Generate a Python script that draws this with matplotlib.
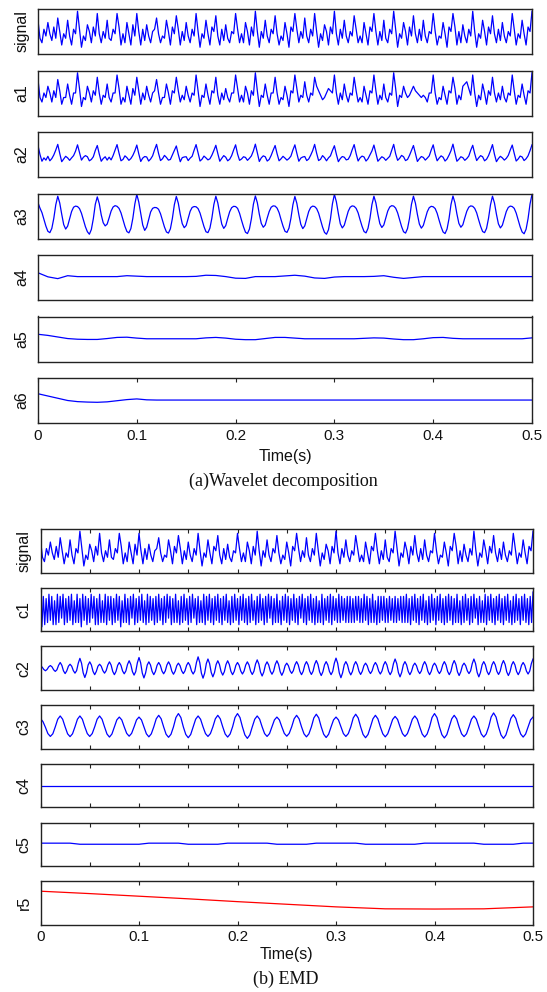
import numpy as np
import matplotlib
matplotlib.use('Agg')
import matplotlib.pyplot as plt

# ---------------- data (panel units -10..10) ----------------
tick_values = [0.0, 0.1, 0.2, 0.3, 0.4, 0.5]
tick_labels = ['0', '0.1', '0.2', '0.3', '0.4', '0.5']
minor_tick_values = [0.0, 0.05, 0.1, 0.15, 0.2, 0.25, 0.3, 0.35, 0.4, 0.45, 0.5]

wavelet_names = ['signal', 'a1', 'a2', 'a3', 'a4', 'a5', 'a6']
emd_names = ['signal', 'c1', 'c2', 'c3', 'c4', 'c5', 'r5']

# sampled every 2 ms
signal = [
    5, -3, -5, 1, -2, 4, -1, -4, 2, -3,
    6, 0, -6, -1, -3, 5, -2, -6, 1, -1,
    9, 1, -7, -2, -4, 3, 0, -5, 2, -2,
    8, -1, -5, 0, -3, 5, -3, -4, 1, -1,
    8, 2, -6, -1, -5, 4, -1, -6, 3, -2,
    8, 0, -6, 1, -4, 3, -2, -5, 0, 1,
    6, -1, -5, -2, -3, 5, 0, -6, 2, -1,
    7, 1, -6, 0, -4, 4, -2, -5, 1, -2,
    8, 0, -7, -1, -3, 5, -1, -6, 2, 0,
    7, -2, -6, 1, -4, 3, -3, -5, 0, -1,
    8, 1, -5, -1, -5, 4, 0, -6, 2, -2,
    9, 0, -7, 0, -3, 5, -2, -5, 1, -1,
    7, -1, -6, -2, -4, 4, -1, -7, 2, 0,
    8, 1, -5, 0, -3, 6, -2, -5, 1, -2,
    8, 0, -7, -1, -4, 3, 0, -6, 2, -1,
    9, -1, -6, 1, -3, 5, -2, -5, 0, -2,
    7, 1, -5, -2, -5, 4, -1, -6, 2, 0,
    8, 0, -6, 0, -4, 5, -3, -5, 1, -1,
    9, 1, -7, -1, -3, 4, 0, -6, 2, -2,
    7, -1, -5, 1, -4, 5, -2, -5, 0, -1,
    8, 0, -6, -2, -3, 4, -1, -7, 2, 0,
    8, 2, -6, 0, -5, 3, -2, -5, 1, -2,
    9, 0, -7, -1, -3, 5, 0, -6, 2, -1,
    7, -1, -5, 1, -4, 4, -2, -5, 0, -2,
    8, 1, -6, -1, -3, 5, -1, -6, 2, 0,
    9]

a1 = [
    6, -2, -4, 0, -2, 3, 0, -4, 1, -2,
    6, 1, -5, -2, -2, 4, -1, -5, 0, 0,
    9, 2, -6, -2, -3, 3, 0, -4, 1, -1,
    7, 0, -5, -1, -2, 4, -2, -4, 0, 0,
    8, 2, -5, -2, -4, 3, -1, -5, 2, -1,
    7, 1, -5, 0, -3, 3, -1, -4, 0, 1,
    6, 0, -5, -2, -2, 4, 0, -5, 1, 0,
    7, 1, -4, -1, -3, 3, -1, -4, 0, -1,
    8, 1, -6, -1, -2, 4, -1, -5, 1, 0,
    7, -1, -5, 0, -3, 2, -2, -4, 0, 0,
    8, 2, -4, -1, -4, 3, 0, -5, 1, -1,
    9, 1, -6, -1, -2, 4, -1, -5, 0, 0,
    7, 0, -5, -2, -3, 3, -1, -6, 1, 0,
    8, 2, -4, -1, -2, 5, -1, -4, 0, -1,
    7, 3, 1, -1, -3, -2, 0, 2, 1, 0,
    8, 0, -5, 0, -3, 4, -1, -4, 0, -1,
    7, 1, -4, -2, -4, 3, -1, -5, 1, 0,
    8, 1, -5, -1, -3, 4, -2, -4, 0, -1,
    9, 2, -6, -1, -2, 3, 0, -2, -1, 1,
    3, 1, 0, -1, -2, -1, -2, -4, 0, 0,
    8, 0, -5, -2, -3, 3, -1, -5, 1, 0,
    7, 2, -5, -1, -3, 3, 4, 5, 2, -1,
    8, 0, -6, -1, -3, 4, 0, -5, 1, -1,
    7, 0, -4, 0, -3, 3, -2, -4, 0, -1,
    8, 1, -5, -1, -2, 4, -1, -5, 1, 0,
    9]

a2 = [
    4.0, 0.0, -3.0, -1.5, -2.5, -0.8, -2.8, -1.8, -0.2, 2.0,
    4.5, 0.5, -3.2, -2.0, -0.8, -1.5, -2.6, -1.5, -0.5, 1.5,
    4.3, 0.8, -2.5, -1.2, -0.5, -1.0, -2.8, -2.2, -1.0, 1.8,
    4.0, 0.2, -3.0, -1.8, -1.0, -2.5, -1.2, -2.4, -0.5, 2.0,
    4.4, 0.6, -2.8, -2.2, -0.6, -1.4, -2.6, -1.8, -0.4, 1.6,
    4.2, 0.3, -3.1, -1.6, -0.9, -1.1, -2.9, -2.0, -0.6, 2.1,
    4.5, 0.5, -2.7, -1.9, -0.4, -1.3, -2.5, -2.2, -0.2, 1.7,
    3.8, 0.0, -3.2, -1.4, -1.1, -1.0, -2.7, -1.6, -0.8, 1.9,
    4.4, 0.7, -2.9, -2.1, -0.7, -1.5, -2.4, -1.9, -0.3, 1.8,
    4.1, 0.4, -3.0, -1.7, -0.5, -1.2, -2.8, -2.1, -0.5, 2.0,
    4.3, 0.2, -2.6, -2.0, -1.0, -1.3, -2.6, -1.7, -0.6, 1.6,
    4.6, 0.8, -3.1, -1.5, -0.6, -1.0, -2.9, -2.2, -0.4, 1.9,
    4.0, 0.3, -2.8, -1.9, -0.8, -1.6, -2.5, -1.8, -0.7, 2.0,
    4.3, 0.5, -3.0, -1.6, -1.1, -0.9, -2.7, -2.0, -0.3, 1.7,
    4.5, 0.6, -2.7, -2.1, -0.5, -1.4, -2.8, -1.5, -0.6, 1.8,
    3.9, 0.1, -3.2, -1.8, -0.9, -1.2, -2.4, -2.1, -0.5, 2.1,
    4.4, 0.4, -2.9, -1.5, -0.7, -1.1, -2.9, -1.9, -0.2, 1.6,
    4.2, 0.7, -3.0, -2.0, -1.0, -1.5, -2.6, -1.7, -0.8, 1.9,
    4.5, 0.3, -2.6, -1.7, -0.4, -1.0, -2.7, -2.2, -0.4, 1.8,
    4.0, 0.5, -3.1, -1.9, -0.9, -1.3, -2.5, -1.6, -0.6, 2.0,
    4.3, 0.2, -2.8, -1.6, -0.6, -1.2, -2.9, -2.0, -0.3, 1.7,
    4.6, 0.6, -3.0, -2.1, -1.0, -1.4, -2.6, -1.8, -0.7, 1.9,
    4.1, 0.4, -2.7, -1.5, -0.5, -1.0, -2.8, -2.1, -0.5, 1.8,
    4.4, 0.1, -3.2, -1.8, -0.8, -1.5, -2.5, -1.7, -0.4, 2.0,
    4.2, 0.5, -2.9, -2.0, -0.7, -1.1, -2.7, -1.9, -0.6, 1.7,
    4.3]

a3 = [
    5.9, 3.5, 1.5, -1.5, -4.5, -6.8, -7.4, -5.5, -1.0, 5.0,
    8.8, 5.8, 0.8, -3.8, -5.8, -4.5, -1.2, 2.0, 3.9, 4.4, 4.2, 3.3, 1.2, -1.8, -4.8, -7.0, -8.1, -6.0, -1.2, 5.2,
    8.5, 5.5, 0.5, -3.0, -4.4, -3.6, -0.8, 2.2, 4.0, 4.6, 4.3, 3.4, 1.4, -1.6, -4.6, -6.9, -7.5, -5.6, -1.0, 5.3,
    9.6, 6.2, 1.0, -4.0, -6.4, -5.0, -1.5, 1.8, 3.4, 3.8, 3.7, 3.0, 1.0, -2.0, -4.9, -7.1, -7.6, -5.7, -1.1, 5.0,
    8.7, 5.7, 0.7, -3.4, -5.2, -4.2, -1.0, 2.1, 3.8, 4.2, 4.1, 3.3, 1.3, -1.7, -4.7, -7.0, -7.4, -5.4, -0.9, 5.1,
    8.8, 5.8, 0.9, -3.6, -5.5, -4.3, -1.1, 1.9, 3.7, 4.3, 4.2, 3.4, 1.2, -1.9, -4.8, -7.2, -7.8, -5.8, -1.2, 5.2,
    8.9, 5.9, 0.8, -3.3, -5.0, -4.0, -0.9, 2.0, 3.9, 4.5, 4.4, 3.5, 1.5, -1.6, -4.5, -6.8, -7.3, -5.4, -1.0, 5.0,
    8.7, 5.6, 0.6, -3.7, -5.6, -4.4, -1.2, 2.0, 3.8, 4.4, 4.2, 3.3, 1.3, -1.8, -4.9, -7.3, -8.1, -6.1, -1.3, 5.4,
    9.6, 6.3, 1.1, -3.5, -5.3, -4.1, -1.0, 2.1, 3.9, 4.5, 4.3, 3.4, 1.4, -1.7, -4.6, -6.9, -7.5, -5.5, -1.0, 5.1,
    8.8, 5.8, 0.8, -3.4, -5.1, -4.0, -0.9, 2.2, 4.0, 4.6, 4.4, 3.5, 1.4, -1.6, -4.7, -7.0, -7.6, -5.6, -1.1, 5.2,
    8.8, 5.7, 0.7, -3.6, -5.4, -4.2, -1.1, 1.9, 3.7, 4.3, 4.1, 3.3, 1.2, -1.9, -4.8, -7.1, -7.8, -5.8, -1.2, 5.1,
    8.9, 5.9, 0.9, -3.3, -5.0, -3.9, -0.8, 2.1, 3.9, 4.5, 4.3, 3.4, 1.4, -1.7, -4.6, -6.9, -7.4, -5.5, -1.0, 5.0,
    8.8, 5.8, 0.8, -3.5, -5.3, -4.1, -1.0, 2.0, 3.8, 4.4, 4.2, 3.4, 1.3, -1.8, -4.8, -7.1, -7.9, -5.9, -1.2, 5.3,
    9.6]

# sampled every 10 ms
a4 = [2.1, 0.3, -0.5, 0.8, 0.4, 0.4, 0.4, 0.4, 0.4, 0.8,
      0.6, 0.4, 0.4, 0.4, 0.4, 0.4, 0.5, 1.0, 0.9, 0.4,
      -0.3, -0.4, 0.4, 0.4, 0.4, 0.7, 1.0, 0.6, -0.2, -0.4,
      0.2, 0.4, 0.4, 0.4, 0.5, 0.8, 0.1, -0.4, 0.0, 0.4,
      0.4, 0.4, 0.4, 0.4, 0.4, 0.4, 0.4, 0.4, 0.4, 0.4, 0.4]
a5 = [2.1, 1.6, 0.9, 0.2, -0.1, -0.2, -0.2, 0.2, 0.7, 0.8,
      0.4, 0.1, 0.1, 0.1, 0.1, 0.1, 0.1, 0.5, 0.7, 0.4,
      -0.1, -0.3, -0.3, 0.2, 0.7, 0.7, 0.4, 0.1, 0.1, 0.1,
      0.1, 0.1, 0.1, 0.3, 0.5, 0.4, 0.0, -0.3, -0.3, 0.1,
      0.6, 0.7, 0.3, 0.1, 0.1, 0.1, 0.1, 0.1, 0.1, 0.1, 0.5]
a6 = [3.0, 2.0, 1.0, 0.0, -0.5, -0.7, -0.8, -0.6, -0.1, 0.4,
      0.7, 0.3, 0.2, 0.2, 0.2, 0.2, 0.2, 0.2, 0.2, 0.2,
      0.2, 0.2, 0.2, 0.2, 0.2, 0.2, 0.2, 0.2, 0.2, 0.2,
      0.2, 0.2, 0.2, 0.2, 0.2, 0.2, 0.2, 0.2, 0.2, 0.2,
      0.2, 0.2, 0.2, 0.2, 0.2, 0.2, 0.2, 0.2, 0.2, 0.2, 0.2]

# c1: successive extrema, about 1.43 ms apart
c1 = [
    9, -8, 6, -7, 5, -6, 7, -5, 6, -7,
    4, -7, 7, -6, 6, -4, 7, -7, 5, -6,
    6, -5, 7, -7, 4, -6, 7, -6, 5, -8,
    7, -5, 6, -7, 5, -6, 7, -4, 6, -7,
    5, -7, 7, -6, 4, -6, 7, -7, 6, -5,
    6, -7, 5, -6, 7, -5, 6, -8, 4, -6,
    7, -6, 5, -7, 6, -4, 7, -7, 5, -6,
    6, -5, 7, -6, 4, -7, 7, -6, 6, -5,
    5, -7, 6, -6, 7, -5, 5, -7, 6, -6,
    7, -4, 6, -7, 5, -6, 7, -6, 4, -7,
    6, -6, 7, -5, 5, -7, 6, -6, 7, -4,
    5, -7, 6, -6, 4, -6, 7, -7, 6, -5,
    7, -6, 5, -7, 6, -5, 7, -6, 5, -7,
    6, -5, 7, -6, 4, -7, 6, -6, 7, -5,
    5, -7, 6, -5, 7, -6, 5, -7, 6, -6,
    7, -5, 4, -7, 6, -6, 7, -5, 5, -7,
    6, -6, 7, -4, 6, -7, 5, -6, 7, -6,
    4, -7, 6, -5, 7, -6, 6, -7, 5, -5,
    7, -6, 5, -7, 6, -4, 7, -6, 5, -7,
    6, -5, 7, -6, 5, -7, 6, -6, 4, -6,
    7, -7, 5, -5, 6, -6, 7, -7, 6, -5,
    5, -6, 7, -6, 6, -5, 5, -6, 6, -6,
    6, -6, 5, -6, 6, -5, 6, -6, 5, -6,
    7, -5, 6, -7, 5, -6, 7, -6, 4, -7,
    6, -6, 6, -5, 6, -6, 5, -6, 6, -5,
    5, -6, 6, -6, 5, -5, 6, -6, 6, -6,
    7, -6, 5, -7, 6, -5, 7, -6, 5, -7,
    6, -5, 7, -6, 4, -7, 6, -6, 7, -5,
    5, -7, 6, -5, 7, -6, 5, -7, 6, -6,
    7, -5, 6, -7, 5, -6, 7, -6, 4, -7,
    6, -6, 7, -5, 5, -7, 6, -6, 7, -4,
    5, -7, 6, -6, 4, -6, 7, -7, 6, -5,
    7, -6, 5, -7, 6, -5, 7, -6, 5, -7,
    6, -5, 7, -6, 4, -7, 6, -6, 7, -5,
    5, -7, 6, -5, 7, -6, 5, -7, 6, -6,
    8]

# sampled every 1.67 ms (six readings per 10 ms cycle)
c2 = [
    1.0, 0.5, -0.6, -1.2, -0.6, 0.6,
    1.2, 0.6, -0.75, -1.5, -0.75, 1.3,
    2.6, 1.3, -1.25, -2.5, -1.25, 0.9,
    1.8, 0.9, -1.15, -2.3, -1.15, 2.25,
    4.5, 2.25, -2.15, -4.3, -2.15, 1.45,
    2.9, 1.45, -1.5, -3.0, -1.5, 0.9,
    1.8, 0.9, -1.15, -2.3, -1.15, 1.45,
    2.9, 1.45, -1.5, -3.0, -1.5, 1.3,
    2.6, 1.3, -1.3, -2.6, -1.3, 1.7,
    3.4, 1.7, -1.6, -3.2, -1.6, 2.45,
    4.9, 2.45, -2.25, -4.5, -2.25, 1.45,
    2.9, 1.45, -1.5, -3.0, -1.5, 1.3,
    2.6, 1.3, -1.3, -2.6, -1.3, 1.45,
    2.9, 1.45, -1.4, -2.8, -1.4, 1.15,
    2.3, 1.15, -1.25, -2.5, -1.25, 1.3,
    2.6, 1.3, -1.35, -2.7, -1.35, 2.6,
    5.2, 2.6, -2.3, -4.6, -2.3, 2.1,
    4.2, 2.1, -2.0, -4.0, -2.0, 1.7,
    3.4, 1.7, -1.6, -3.2, -1.6, 1.7,
    3.4, 1.7, -1.5, -3.0, -1.5, 1.3,
    2.6, 1.3, -1.35, -2.7, -1.35, 1.45,
    2.9, 1.45, -1.45, -2.9, -1.45, 1.9,
    3.8, 1.9, -1.8, -3.6, -1.8, 1.45,
    2.9, 1.45, -1.4, -2.8, -1.4, 1.7,
    3.4, 1.7, -1.65, -3.3, -1.65, 1.15,
    2.3, 1.15, -1.2, -2.4, -1.2, 1.5,
    3.0, 1.5, -1.5, -3.0, -1.5, 1.5,
    3.0, 1.5, -1.45, -2.9, -1.45, 1.75,
    3.5, 1.75, -1.7, -3.4, -1.7, 1.5,
    3.0, 1.5, -1.5, -3.0, -1.5, 2.3,
    4.6, 2.3, -2.2, -4.4, -2.2, 1.5,
    3.0, 1.5, -1.55, -3.1, -1.55, 1.5,
    3.0, 1.5, -1.45, -2.9, -1.45, 1.15,
    2.3, 1.15, -1.25, -2.5, -1.25, 1.3,
    2.6, 1.3, -1.35, -2.7, -1.35, 1.5,
    3.0, 1.5, -1.5, -3.0, -1.5, 2.1,
    4.2, 2.1, -2.0, -4.0, -2.0, 1.5,
    3.0, 1.5, -1.5, -3.0, -1.5, 1.15,
    2.3, 1.15, -1.25, -2.5, -1.25, 1.5,
    3.0, 1.5, -1.5, -3.0, -1.5, 1.15,
    2.3, 1.15, -1.25, -2.5, -1.25, 1.5,
    3.0, 1.5, -1.5, -3.0, -1.5, 1.75,
    3.5, 1.75, -1.7, -3.4, -1.7, 1.15,
    2.3, 1.15, -1.25, -2.5, -1.25, 2.1,
    4.2, 2.1, -2.0, -4.0, -2.0, 1.5,
    3.0, 1.5, -1.5, -3.0, -1.5, 1.5,
    3.0, 1.5, -1.45, -2.9, -1.45, 1.75,
    3.5, 1.75, -1.7, -3.4, -1.7, 1.5,
    3.0, 1.5, -1.5, -3.0, -1.5, 1.3,
    2.6, 1.3, -1.35, -2.7, -1.35, 2.1,
    4.2]

# sampled every 2.5 ms
c3 = [
    3.8, 2.4, -0.2, -3.1, -4.4, -3.2, 0.0, 3.5,
    5.0, 3.5, 0.0, -3.2, -4.5, -3.2, 0.0, 3.5,
    5.0, 3.5, 0.0, -3.1, -4.4, -3.1, 0.0, 3.5,
    5.0, 3.5, 0.0, -3.3, -4.7, -3.3, 0.0, 3.2,
    4.5, 3.2, 0.0, -3.0, -4.3, -3.0, 0.0, 3.2,
    4.5, 3.2, 0.0, -3.2, -4.6, -3.2, 0.0, 3.7,
    5.3, 3.7, 0.0, -3.4, -4.8, -3.4, 0.0, 4.3,
    6.1, 4.3, 0.0, -3.5, -5.0, -3.5, 0.0, 3.5,
    5.0, 3.5, 0.0, -3.1, -4.4, -3.1, 0.0, 3.7,
    5.3, 3.7, 0.0, -3.3, -4.7, -3.3, 0.0, 4.3,
    6.1, 4.3, 0.0, -3.7, -5.3, -3.7, 0.0, 3.5,
    5.0, 3.5, 0.0, -3.1, -4.4, -3.1, 0.0, 3.2,
    4.5, 3.2, 0.0, -3.0, -4.3, -3.0, 0.0, 3.7,
    5.3, 3.7, 0.0, -3.2, -4.6, -3.2, 0.0, 4.1,
    5.8, 4.1, 0.0, -3.4, -4.9, -3.4, 0.0, 3.2,
    4.5, 3.2, 0.0, -3.1, -4.4, -3.1, 0.0, 4.1,
    5.8, 4.1, 0.0, -3.5, -5.0, -3.5, 0.0, 3.7,
    5.3, 3.7, 0.0, -3.2, -4.6, -3.2, 0.0, 3.4,
    4.8, 3.4, 0.0, -3.1, -4.4, -3.1, 0.0, 3.5,
    5.0, 3.5, 0.0, -3.3, -4.7, -3.3, 0.0, 4.3,
    6.1, 4.3, 0.0, -3.6, -5.1, -3.6, 0.0, 3.7,
    5.3, 3.7, 0.0, -3.2, -4.5, -3.2, 0.0, 3.5,
    5.0, 3.5, 0.0, -3.3, -4.7, -3.3, 0.0, 4.5,
    6.4, 4.5, 0.0, -3.7, -5.3, -3.7, 0.0, 3.9,
    5.6, 3.9, 0.0, -3.3, -4.7, -3.3, 0.0, 3.2,
    4.5]

c4 = [0.0, 0.0, 0.0, 0.0, 0.0, 0.0, 0.0, 0.0, 0.0, 0.0, 0.0]

# sampled every 10 ms
c5 = [0.5, 0.5, 0.5, 0.5, 0.0, 0.0, 0.0, 0.0, 0.0, 0.0,
      0.0, 0.5, 0.5, 0.5, 0.5, 0.0, 0.0, 0.0, 0.0, 0.5,
      0.5, 0.5, 0.5, 0.5, 0.0, 0.0, 0.0, 0.0, 0.5, 0.5,
      0.5, 0.5, 0.5, 0.0, 0.0, 0.0, 0.0, 0.0, 0.0, 0.5,
      0.5, 0.5, 0.5, 0.5, 0.5, 0.0, 0.0, 0.0, 0.0, 0.5, 0.5]

# sampled every 50 ms
r5 = [5.4, 4.3, 3.1, 1.9, 0.6, -0.6, -1.8, -2.7, -2.8, -2.7, -1.8]

# ---------------- figure ----------------
W, H = 547, 992
fig = plt.figure(figsize=(W / 100, H / 100), dpi=100)
fig.patch.set_facecolor('white')

SANS = ['Liberation Sans', 'DejaVu Sans']
SERIF = ['Liberation Serif', 'DejaVu Serif']
BLUE = '#0000ff'
RED = '#ff0000'
SPINE = '#222222'


def add_ax(left, top, width, height):
    return fig.add_axes([left / W, 1 - (top + height) / H, width / W, height / H])


def style(ax):
    ax.set_xlim(0, 0.5)
    ax.set_ylim(-10, 10)
    ax.set_yticks([])
    for s in ax.spines.values():
        s.set_color(SPINE)
        s.set_linewidth(1.0)
    ax.tick_params(axis='x', direction='in', top=True, bottom=True,
                   length=3, width=0.8, color=SPINE,
                   labelsize=11, pad=4, labelcolor='#111111')


# (a) wavelet decomposition
wav_data = [signal, a1, a2, a3, a4, a5, a6]
for i, (name, vals) in enumerate(zip(wavelet_names, wav_data)):
    top = 9 + 61.5 * i
    ax = add_ax(38, top, 494, 45)
    t = np.linspace(0, 0.5, len(vals))
    ax.plot(t, vals, color=BLUE, lw=0.9)
    style(ax)
    if i == len(wav_data) - 1:
        ax.set_xticks(tick_values)
        ax.set_xticklabels(tick_labels, family=SANS)
    else:
        ax.set_xticks([])
    fig.text(22 / W, 1 - (top + 22.5) / H, name, rotation=90, ha='center',
             va='center', fontsize=11.5, family=SANS, color='#111111')

fig.text(285 / W, 1 - 457 / H, 'Time(s)', ha='center', va='center',
         fontsize=11.5, family=SANS, color='#111111')
fig.text(283 / W, 1 - 481 / H, '(a)Wavelet decomposition', ha='center',
         va='center', fontsize=13, family=SERIF, color='#111111')

# (b) EMD
emd_data = [signal, c1, c2, c3, c4, c5, r5]
for i, (name, vals) in enumerate(zip(emd_names, emd_data)):
    top = 529 + 58.7 * i
    ax = add_ax(40.5, top, 492.5, 43.5)
    t = np.linspace(0, 0.5, len(vals))
    ax.plot(t, vals, color=RED if name == 'r5' else BLUE, lw=0.9)
    style(ax)
    if i == len(emd_data) - 1:
        ax.set_xticks(tick_values)
        ax.set_xticklabels(tick_labels, family=SANS)
    else:
        ax.set_xticks(minor_tick_values)
        ax.set_xticklabels([])
    fig.text(24 / W, 1 - (top + 21.75) / H, name, rotation=90, ha='center',
             va='center', fontsize=11.5, family=SANS, color='#111111')

fig.text(286 / W, 1 - 954 / H, 'Time(s)', ha='center', va='center',
         fontsize=11.5, family=SANS, color='#111111')
fig.text(286 / W, 1 - 979 / H, '(b) EMD', ha='center', va='center',
         fontsize=13, family=SERIF, color='#111111')

fig.savefig('out.png', dpi=100, facecolor='white')
